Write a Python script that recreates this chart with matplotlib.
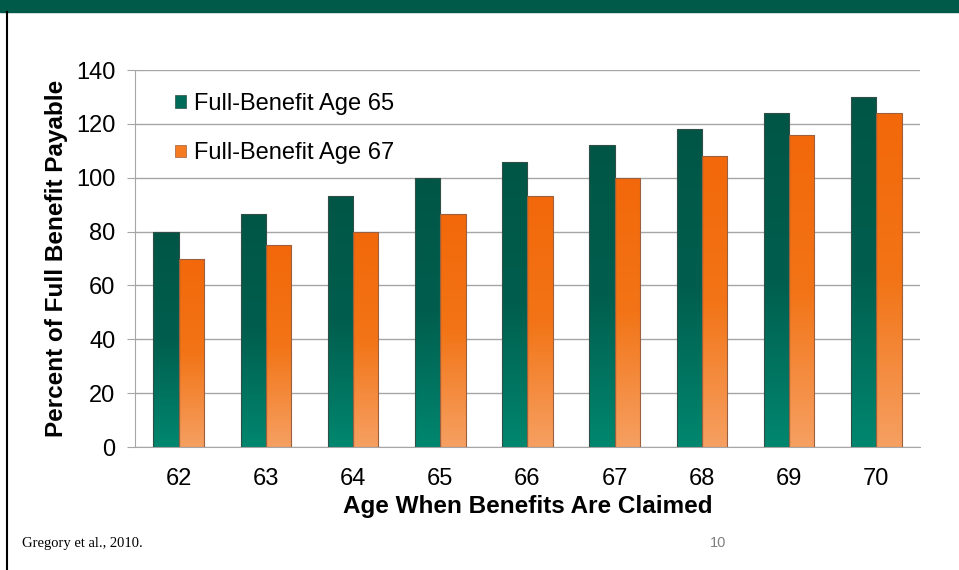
import numpy as np
import matplotlib.pyplot as plt
from matplotlib.patches import Rectangle
from matplotlib.colors import LinearSegmentedColormap
from matplotlib.lines import Line2D

ages = ['62', '63', '64', '65', '66', '67', '68', '69', '70']
full_age_65 = [80, 86.7, 93.3, 100, 106, 112, 118, 124, 130]
full_age_67 = [70, 75, 80, 86.7, 93.3, 100, 108, 116, 124]
series_names = ['Full-Benefit Age 65', 'Full-Benefit Age 67']

green_cmap = LinearSegmentedColormap.from_list('g', ['#005646', '#005E4E', '#00876F'])
orange_cmap = LinearSegmentedColormap.from_list('o', ['#F2680A', '#F27416', '#F6A062'])

plt.rcParams['font.family'] = ['Liberation Sans', 'DejaVu Sans']

fig = plt.figure(figsize=(9.59, 5.70), dpi=100)
fig.patch.set_facecolor('white')

# slide header band and left border
fig.patches.append(Rectangle((0, 558 / 570), 1, 12 / 570, transform=fig.transFigure,
                             color='#005A4A', zorder=0))
fig.lines.append(Line2D([7 / 959, 7 / 959], [0, 558 / 570], transform=fig.transFigure,
                        color='black', lw=1.5))

ax = fig.add_axes([135 / 959, 123 / 570, 785 / 959, 377 / 570])

x = np.arange(len(ages))
w = 0.29
grad = np.linspace(0, 1, 256).reshape(-1, 1)


def gradient_bars(xs, vals, cmap, edge):
    bars = ax.bar(xs, vals, w, color='none', edgecolor=edge, linewidth=0.8, zorder=3)
    for b in bars:
        x0, y0 = b.get_x(), b.get_y()
        im = ax.imshow(grad, cmap=cmap, aspect='auto', zorder=2,
                       extent=[x0, x0 + b.get_width(), y0, y0 + b.get_height()])
        clip = Rectangle((x0, y0), b.get_width(), b.get_height(), transform=ax.transData)
        im.set_clip_path(clip)
    return bars


gradient_bars(x - w / 2, full_age_65, green_cmap, '#2F4F47')
gradient_bars(x + w / 2, full_age_67, orange_cmap, '#9A6040')

ax.set_xlim(-0.5, len(ages) - 0.5)
ax.set_ylim(0, 140)
ax.set_yticks(range(0, 141, 20))
ax.set_xticks(x)
ax.set_xticklabels(ages)
ax.tick_params(axis='both', labelsize=17, colors='black')
ax.tick_params(axis='x', length=0, pad=15)
ax.tick_params(axis='y', length=6, direction='out', color='#A6A6A6', pad=8)

ax.yaxis.grid(True, color='#A6A6A6', lw=1)
ax.set_axisbelow(True)
for s in ['top', 'right']:
    ax.spines[s].set_visible(False)
ax.spines['left'].set_color('#A6A6A6')
ax.spines['bottom'].set_color('#A6A6A6')

ax.set_xlabel('Age When Benefits Are Claimed', fontsize=17.5, fontweight='bold', labelpad=4)
ax.set_ylabel('Percent of Full Benefit Payable', fontsize=17.5, fontweight='bold', labelpad=6)

handles = [Rectangle((0, 0), 1, 1, facecolor='#006B58', edgecolor='#2F4F47', lw=0.5),
           Rectangle((0, 0), 1, 1, facecolor='#F57A20', edgecolor='#9A6040', lw=0.5)]
ax.legend(handles, series_names, loc='upper left', bbox_to_anchor=(0.039, 0.964),
          frameon=False, fontsize=17, handlelength=0.45, handleheight=0.45,
          handletextpad=0.34, labelspacing=1.16, borderaxespad=0)

fig.text(22 / 959, 27 / 570, 'Gregory et al., 2010.', fontsize=10.5,
         family=['Liberation Serif', 'DejaVu Serif'], va='center')
fig.text(710 / 959, 27 / 570, '10', fontsize=10.5, color='#7F7F7F', va='center')

fig.savefig('out.png', dpi=100)
